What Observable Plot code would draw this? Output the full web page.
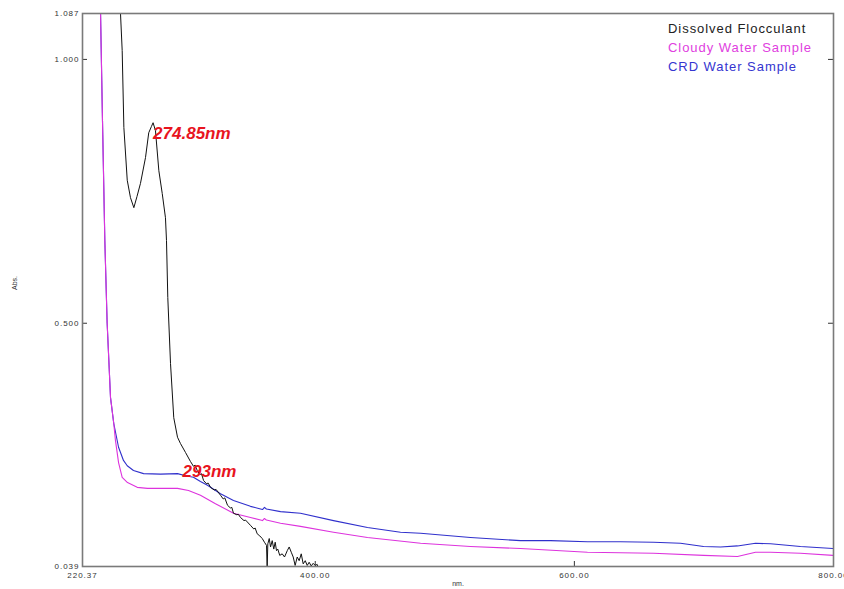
<!DOCTYPE html>
<html>
<head>
<meta charset="utf-8">
<script src="https://cdn.jsdelivr.net/npm/d3@7"></script>
<script src="https://cdn.jsdelivr.net/npm/@observablehq/plot@0.6"></script>
<style>
  html, body { margin: 0; padding: 0; background: #fff; }
  #wrap { position: relative; width: 844px; height: 589px; overflow: hidden; }
  #legend { position: absolute; left: 668px; top: 19px; font-family: "Liberation Sans", Arial, sans-serif; font-size: 13px; line-height: 19px; letter-spacing: 0.95px; }
</style>
</head>
<body>
<div id="wrap"><div id="legend"></div></div>
<script>
// Series names and colours
const seriesNames = ["Dissolved Flocculant", "Cloudy Water Sample", "CRD Water Sample"];
const seriesColors = ["#111111", "#dd33dd", "#3030cc"];
const legendColors = ["#222222", "#e040e0", "#3535d0"];

// Dissolved Flocculant (black)
const flocNm = [249.5, 249.7, 251.0, 252.3, 254.9, 257.4, 260.0, 262.4, 265.1, 269.0, 271.5, 273.6, 274.85, 276.7, 279.3, 281.9, 284.4, 285.2, 286.2, 288.3, 290.8, 293.7, 296.0, 299.9, 303.7, 306.0, 307.3, 308.9, 311.0, 312.2, 313.8, 316.0, 317.4, 319.2, 322.0, 323.5, 326.9, 329.0, 330.2, 332.3, 334.5, 335.6, 336.9, 339.5, 340.6, 342.3, 345.0, 346.2, 350.0, 352.6, 353.6, 355.2, 357.2, 359.1, 360.8, 362.4, 362.9, 363.4, 364.5, 365.5, 366.8, 368.0, 369.1, 370.1, 371.1, 372.6, 374.5, 376.3, 378.4, 379.9, 381.5, 383.0, 384.5, 386.1, 387.6, 389.2, 390.7, 392.3, 393.8, 395.3, 396.9, 398.4, 400.0, 401.5, 402.0];
const flocAbs = [1.112, 1.087, 1.017, 0.871, 0.771, 0.738, 0.719, 0.740, 0.765, 0.814, 0.861, 0.873, 0.880, 0.865, 0.789, 0.746, 0.700, 0.657, 0.549, 0.424, 0.321, 0.284, 0.272, 0.255, 0.238, 0.229, 0.231, 0.221, 0.213, 0.215, 0.202, 0.196, 0.197, 0.189, 0.184, 0.185, 0.174, 0.167, 0.169, 0.155, 0.150, 0.151, 0.140, 0.137, 0.138, 0.132, 0.126, 0.127, 0.117, 0.110, 0.112, 0.101, 0.097, 0.092, 0.085, 0.079, 0.036, 0.082, 0.092, 0.076, 0.088, 0.072, 0.085, 0.069, 0.072, 0.060, 0.063, 0.057, 0.069, 0.076, 0.066, 0.057, 0.041, 0.057, 0.050, 0.063, 0.044, 0.050, 0.041, 0.047, 0.040, 0.045, 0.041, 0.043, 0.039];

// Cloudy Water Sample (magenta)
const cloudyNm = [234.0, 234.3, 235.8, 237.6, 239.4, 242.0, 244.5, 245.8, 248.2, 251.0, 255.1, 262.6, 270.5, 284.4, 293.7, 302.2, 311.4, 323.0, 336.9, 350.0, 359.3, 360.8, 362.3, 373.2, 388.6, 414.1, 440.3, 481.3, 519.8, 558.4, 610.1, 661.1, 699.7, 725.9, 739.8, 751.4, 774.5, 800.0];
const cloudyAbs = [1.112, 1.087, 0.884, 0.657, 0.500, 0.359, 0.310, 0.278, 0.236, 0.208, 0.198, 0.189, 0.187, 0.187, 0.187, 0.183, 0.174, 0.158, 0.140, 0.132, 0.126, 0.130, 0.127, 0.121, 0.115, 0.104, 0.094, 0.083, 0.077, 0.073, 0.066, 0.064, 0.060, 0.058, 0.066, 0.066, 0.064, 0.060];

// CRD Water Sample (blue)
const crdNm = [234.0, 234.3, 235.8, 237.6, 239.4, 242.0, 244.5, 248.2, 252.0, 254.9, 259.7, 267.5, 280.6, 293.7, 299.9, 306.0, 311.4, 316.8, 326.9, 336.9, 350.0, 359.3, 360.8, 362.3, 373.2, 388.6, 414.1, 440.3, 465.8, 481.3, 519.8, 558.4, 581.6, 610.1, 635.6, 661.1, 681.9, 699.7, 712.8, 725.9, 739.8, 751.4, 774.5, 800.0];
const crdAbs = [1.112, 1.087, 0.884, 0.657, 0.500, 0.359, 0.310, 0.265, 0.240, 0.230, 0.221, 0.215, 0.214, 0.215, 0.211, 0.208, 0.200, 0.193, 0.177, 0.164, 0.153, 0.147, 0.151, 0.148, 0.143, 0.140, 0.126, 0.113, 0.104, 0.102, 0.094, 0.088, 0.088, 0.086, 0.086, 0.085, 0.083, 0.077, 0.076, 0.078, 0.083, 0.082, 0.077, 0.073];

// Axis ticks
const xTicks = [220.37, 400, 600, 800];
const yTicks = [0.039, 0.5, 1.0, 1.087];
const xInnerTicks = [400, 600];
const yInnerTicks = [0.5, 1.0];

// Peak annotations
const annNm = [274.85, 293];
const annAbs = [0.880, 0.215];
const annLabel = ["274.85nm", "293nm"];

const toRows = (nm, ab) => nm.map((x, i) => ({nm: x, abs: ab[i]}));
const floc = toRows(flocNm, flocAbs);
const cloudy = toRows(cloudyNm, cloudyAbs);
const crd = toRows(crdNm, crdAbs);
const ann = annNm.map((x, i) => ({nm: x, abs: annAbs[i], label: annLabel[i], i}));

const axisColor = "#7a7a7a";
const redText = "#e8141e";

const chart = Plot.plot({
  width: 844,
  height: 589,
  marginLeft: 82,
  marginRight: 11,
  marginTop: 13,
  marginBottom: 23,
  x: {domain: [220.37, 800]},
  y: {domain: [0.039, 1.087]},
  style: {fontFamily: "'Liberation Sans', Arial, sans-serif", background: "white", overflow: "hidden"},
  marks: [
    Plot.axisY(yTicks, {tickSize: 0, tickPadding: 3, tickFormat: d => d.toFixed(3), fill: "#333", fontSize: 8, label: null}),
    Plot.axisX(xTicks, {tickSize: 0, tickPadding: 6, tickFormat: d => d.toFixed(2), fill: "#333", fontSize: 8, label: null}),
    Plot.tickY(yInnerTicks, {y: d => d, stroke: "#333", insetRight: 746}),
    Plot.tickY(yInnerTicks, {y: d => d, stroke: "#333", insetLeft: 746}),
    Plot.tickX(xInnerTicks, {x: d => d, stroke: "#333", insetTop: 548}),
    Plot.lineY(crd, {x: "nm", y: "abs", stroke: seriesColors[2], strokeWidth: 1.1, clip: true}),
    Plot.lineY(cloudy, {x: "nm", y: "abs", stroke: seriesColors[1], strokeWidth: 1.1, clip: true}),
    Plot.lineY(floc, {x: "nm", y: "abs", stroke: seriesColors[0], strokeWidth: 1, clip: true}),
    Plot.frame({stroke: axisColor, strokeWidth: 1.6}),
    Plot.text(ann, {filter: d => d.i === 0, x: "nm", y: "abs", text: "label", textAnchor: "start", dy: 11, fill: redText, fontSize: 17, fontWeight: "bold", fontStyle: "italic"}),
    Plot.text(ann, {filter: d => d.i === 1, x: "nm", y: "abs", text: "label", textAnchor: "start", dx: 6, dy: -2, fill: redText, fontSize: 17, fontWeight: "bold", fontStyle: "italic"}),
    Plot.text(["Abs."], {frameAnchor: "left", dx: -68, rotate: -90, fontSize: 7, fill: "#333"}),
    Plot.text(["nm."], {frameAnchor: "bottom", dy: 19, fontSize: 7, fill: "#333"})
  ]
});

d3.select(chart).selectAll('g[aria-label="y-axis tick label"], g[aria-label="x-axis tick label"]').attr("letter-spacing", "1");

const wrap = document.getElementById("wrap");
wrap.insertBefore(chart, wrap.firstChild);

const legend = d3.select("#legend");
seriesNames.forEach((name, i) => {
  legend.append("div").style("color", legendColors[i]).text(name);
});
</script>
</body>
</html>
